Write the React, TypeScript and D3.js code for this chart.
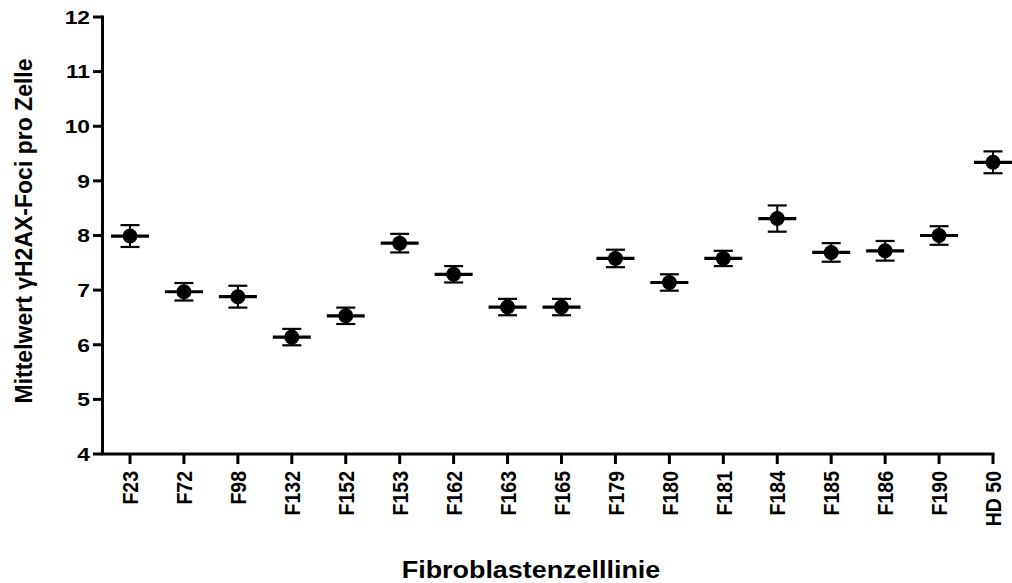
import React from "react";
import * as d3 from "d3";

const categories = ["F23", "F72", "F98", "F132", "F152", "F153", "F162", "F163", "F165", "F179", "F180", "F181", "F184", "F185", "F186", "F190", "HD 50"];
const means = [7.99, 6.97, 6.88, 6.14, 6.53, 7.86, 7.29, 6.69, 6.69, 7.58, 7.14, 7.58, 8.31, 7.69, 7.72, 8.0, 9.34];
const errors = [0.2, 0.16, 0.2, 0.15, 0.15, 0.17, 0.15, 0.15, 0.15, 0.16, 0.15, 0.14, 0.24, 0.17, 0.18, 0.17, 0.2];
const yTicks = [4, 5, 6, 7, 8, 9, 10, 11, 12];

const W = 1012;
const H = 583;
const FONT = "'Liberation Sans', Arial, sans-serif";
// lettering is set slightly wide
const SX = 1.17;

export default function App() {
  const axisX = 102.5;
  const axisY = 454;
  const x = d3.scalePoint<string>().domain(categories).range([130, 993]).padding(0);
  const y = d3.scaleLinear().domain([4, 12]).range([axisY, 17]);

  return (
    <svg width={W} height={H} style={{ position: "absolute", left: 0, top: 0, background: "#fff" }}>
      <rect width={W} height={H} fill="#fff" />
      {/* y axis */}
      <line x1={axisX} x2={axisX} y1={y(12) - 1.5} y2={axisY} stroke="#000" strokeWidth={3} />
      {yTicks.map((t) => (
        <g key={t}>
          <line x1={93} x2={axisX} y1={y(t)} y2={y(t)} stroke="#000" strokeWidth={3} />
          <text
            transform={`translate(90,${y(t)}) scale(1.2,1)`}
            dy="0.36em"
            textAnchor="end"
            fontFamily={FONT}
            fontWeight="bold"
            fontSize={19}
            fill="#000"
          >
            {t}
          </text>
        </g>
      ))}
      {/* x axis */}
      <line x1={axisX - 1.5} x2={994.5} y1={axisY} y2={axisY} stroke="#000" strokeWidth={3} />
      {categories.map((c) => {
        const cx = x(c)!;
        return (
          <g key={c}>
            <line x1={cx} x2={cx} y1={axisY} y2={464} stroke="#000" strokeWidth={3} />
            <text
              transform={`translate(${cx},471) scale(${SX},1) rotate(-90)`}
              textAnchor="end"
              dy="0.36em"
              fontFamily={FONT}
              fontWeight="bold"
              fontSize={19.5}
              fill="#000"
            >
              {c}
            </text>
          </g>
        );
      })}
      {/* mean ± error markers */}
      {categories.map((c, i) => {
        const cx = x(c)!;
        const m = means[i];
        const e = errors[i];
        return (
          <g key={c}>
            <line x1={cx} x2={cx} y1={y(m + e)} y2={y(m - e)} stroke="#000" strokeWidth={2} />
            <line x1={cx - 9.5} x2={cx + 9.5} y1={y(m + e)} y2={y(m + e)} stroke="#000" strokeWidth={2.2} />
            <line x1={cx - 9.5} x2={cx + 9.5} y1={y(m - e)} y2={y(m - e)} stroke="#000" strokeWidth={2.2} />
            <line x1={cx - 19} x2={cx + 19} y1={y(m)} y2={y(m)} stroke="#000" strokeWidth={3.2} />
            <circle cx={cx} cy={y(m)} r={7.5} fill="#000" />
          </g>
        );
      })}
      {/* axis titles */}
      <text
        transform={`translate(531,578) scale(${SX},1)`}
        textAnchor="middle"
        fontFamily={FONT}
        fontWeight="bold"
        fontSize={23}
        fill="#000"
      >
        Fibroblastenzelllinie
      </text>
      <text
        transform={`translate(32,231) scale(1.05,1) rotate(-90)`}
        textAnchor="middle"
        fontFamily={FONT}
        fontWeight="bold"
        fontSize={23}
        fill="#000"
      >
        Mittelwert γH2AX-Foci pro Zelle
      </text>
    </svg>
  );
}
